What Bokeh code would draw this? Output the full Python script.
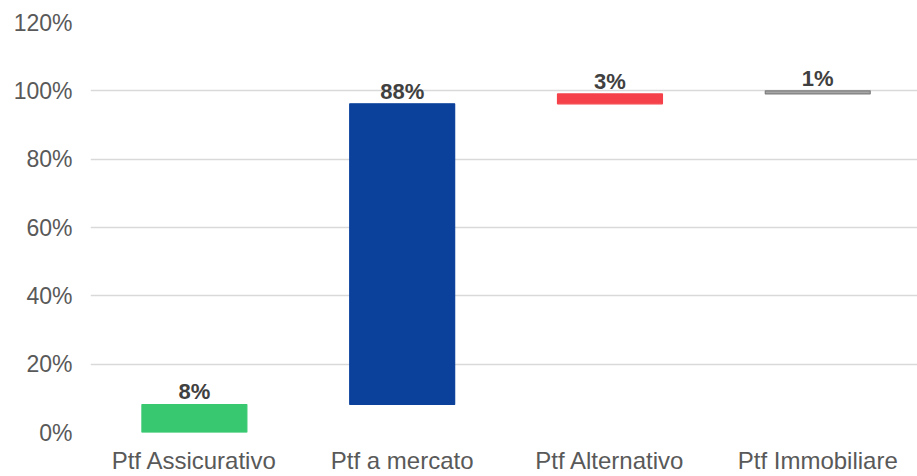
from bokeh.plotting import figure
from bokeh.models import ColumnDataSource, Range1d, FixedTicker, LabelSet, NumeralTickFormatter
from bokeh.core.properties import value
from bokeh.embed import file_html
from bokeh.resources import INLINE

categories = ["Ptf Assicurativo", "Ptf a mercato", "Ptf Alternativo", "Ptf Immobiliare"]
values = [8.2, 88.0, 2.9, 0.9]
labels = ["8%", "88%", "3%", "1%"]
colors = ["#38C870", "#0B419B", "#F5414A", "#A6A6A6"]
line_colors = ["#38C870", "#0B419B", "#F5414A", "#7F7F7F"]
y_ticks = [0, 20, 40, 60, 80, 100, 120]

bottoms, tops = [], []
acc = 0.0
for v in values:
    bottoms.append(acc)
    acc += v
    tops.append(acc)

xs = list(range(len(categories)))
src = ColumnDataSource(dict(x=xs, bottom=bottoms, top=tops, label=labels,
                            color=colors, lc=line_colors))

FONT = "Liberation Sans"
p = figure(width=917, height=476, output_backend="svg", toolbar_location=None,
           x_range=Range1d(-0.5, 3.48), y_range=Range1d(0, 120),
           min_border_left=90, min_border_right=0, min_border_top=22, min_border_bottom=44)
p.outline_line_color = None
p.background_fill_color = "white"
p.border_fill_color = "white"

p.vbar(x="x", bottom="bottom", top="top", width=0.505, fill_color="color",
       line_color="lc", line_width=1.2, source=src)

p.add_layout(LabelSet(x="x", y="top", text="label", source=src, y_offset=5,
                      text_align="center", text_baseline="alphabetic",
                      text_font=value(FONT), text_font_style="bold", text_font_size="22px",
                      text_color="#404040"))

p.xgrid.grid_line_color = None
p.ygrid.grid_line_color = "#D9D9D9"
p.ygrid.grid_line_width = 1.5
p.ygrid.ticker = FixedTicker(ticks=y_ticks)

p.yaxis.ticker = FixedTicker(ticks=y_ticks)
p.yaxis.formatter = NumeralTickFormatter(format="0")
p.yaxis.major_label_overrides = {t: f"{t}%" for t in y_ticks}
p.yaxis.axis_line_color = None
p.yaxis.major_tick_line_color = None
p.yaxis.minor_tick_line_color = None
p.yaxis.major_tick_out = 0
p.yaxis.major_label_standoff = 18
p.yaxis.major_label_text_font = FONT
p.yaxis.major_label_text_font_size = "23px"
p.yaxis.major_label_text_color = "#595959"

p.xaxis.ticker = FixedTicker(ticks=xs)
p.xaxis.major_label_overrides = {i: c for i, c in enumerate(categories)}
p.xaxis.axis_line_color = None
p.xaxis.major_tick_line_color = None
p.xaxis.minor_tick_line_color = None
p.xaxis.major_tick_out = 0
p.xaxis.major_label_standoff = 14
p.xaxis.major_label_text_font = FONT
p.xaxis.major_label_text_font_size = "24px"
p.xaxis.major_label_text_color = "#595959"

open("out.html", "w").write(file_html(p, INLINE))
